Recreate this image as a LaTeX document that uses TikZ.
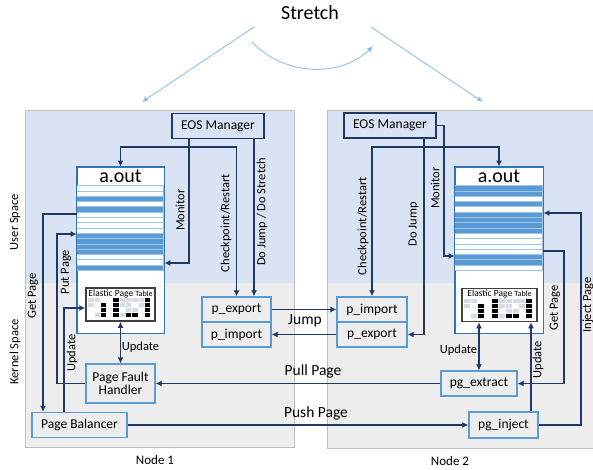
\documentclass[tikz,border=0pt]{standalone}
\usepackage{fontspec}
\setmainfont{Carlito}
\usetikzlibrary{arrows.meta,calc}
\definecolor{navy}{HTML}{203864}
\definecolor{userbg}{HTML}{DAE3F3}
\definecolor{kernbg}{HTML}{EDEDED}
\definecolor{panelline}{HTML}{BFBFBF}
\definecolor{boxblue}{HTML}{5B9BD5}
\definecolor{aoutblue}{HTML}{2E75B6}
\definecolor{stripeblue}{HTML}{5B9BD5}
\definecolor{stripeline}{HTML}{9DC3E6}
\definecolor{lightarrow}{HTML}{9DC3E6}
\definecolor{tipblue}{HTML}{5B9BD5}
\definecolor{cell0}{HTML}{FFFFFF}
\definecolor{cell1}{HTML}{D6DCE5}
\definecolor{cell2}{HTML}{000000}
\colorlet{stripe0}{white}
\colorlet{stripe1}{stripeblue}
\newcommand{\myfs}[1]{\fontsize{#1}{#1}\selectfont}
\newcommand{\eptcells}[1]{%
  \foreach \row [count=\r from 0] in {{1,1,0,0,2,1,1,1,1,2},{1,0,2,0,2,1,1,0,1,2},{0,0,2,0,2,0,1,1,0,2},{0,1,2,0,2,1,2,2,0,2}}{%
    \foreach \v [count=\c from 0] in \row {%
      \fill[cell\v] (3+\c*#1, 11+\r*5) rectangle ++(#1-0.9, 4.2);
    }%
  }%
}
\newcommand{\aoutstripes}[2]{%
  \foreach \v [count=\i from 0] in {#2} {%
    \filldraw[fill=stripe\v, draw=stripeline, line width=0.6pt] (0,19+\i*5.3) rectangle ++(#1,5.3);
  }%
}
\begin{document}
\begin{tikzpicture}[x=1pt,y=-1pt,
  conn/.style={draw=navy, line width=1.4pt, -{Latex[length=6pt,width=6pt]}},
  conn2/.style={draw=navy, line width=1.4pt, {Latex[length=6pt,width=6pt]}-{Latex[length=6pt,width=6pt]}},
  lightconn/.style={draw=lightarrow, line width=1pt, -{Latex[length=6pt,width=6pt,fill=tipblue]}},
  eosbox/.style={draw=navy, line width=1.3pt, fill=userbg, minimum width=92pt, minimum height=25pt, inner sep=0pt, font=\myfs{13.5}},
  kbox/.style={draw=boxblue, line width=1.3pt, fill=kernbg, inner sep=0pt, font=\myfs{13.5}, align=center},
  aoutbox/.style={draw=aoutblue, line width=0.9pt, fill=white, minimum width=87pt, minimum height=166pt, inner sep=0pt},
  eptbox/.style={draw=black!75, line width=1.5pt, fill=white, inner sep=0pt, minimum height=33pt},
  lbl/.style={font=\myfs{12.5}, inner sep=0pt},
  biglbl/.style={font=\myfs{15.5}, inner sep=0pt},
  title/.style={font=\myfs{20}, inner sep=0pt}
]
\useasboundingbox (0,0) rectangle (593,469);
% panels
\fill[userbg] (25,110) rectangle (294,283);
\fill[kernbg] (25,283) rectangle (294,447);
\draw[panelline, line width=1pt] (25,110) rectangle (294,447);
\fill[userbg] (327,110) rectangle (600,283);
\fill[kernbg] (327,283) rectangle (600,448);
\draw[panelline, line width=1pt] (327,110) rectangle (600,448);

% top
\node[title] (stretch) at (310,13) {Stretch};
\coordinate (sl0) at (254,27);
\coordinate (sl1) at (142,102);
\coordinate (sr0) at (371,27);
\coordinate (sr1) at (483,102);
\coordinate (sa0) at (252,42);
\coordinate (sa1) at (373,46);
\draw[lightconn] (sl0) -- (sl1);
\draw[lightconn] (sr0) -- (sr1);
\draw[lightconn] (sa0) .. controls (285,77) and (342,77) .. (sa1);

% side labels
\node[lbl, rotate=90] (us) at (15,222) {User Space};
\node[lbl, rotate=90] (ks) at (15,352) {Kernel Space};
\node[lbl, font=\myfs{13}] (n1) at (155,460) {Node 1};
\node[lbl, font=\myfs{13}] (n2) at (450,461) {Node 2};

% ---------- Node 1 ----------
\node[eosbox] (eos1) at (218,126) {EOS Manager};
\node[aoutbox] (aout1) at (120.5,250) {};
\begin{scope}[shift={(aout1.north west)}]
  \aoutstripes{87}{0,0,1,0,1,0,0,0,0,1,1,1,1,0,0,1}
\end{scope}
\draw[aoutblue, line width=0.9pt] (aout1.north west) rectangle (aout1.south east);
\node[title] (at1) at ($(aout1.north)+(0,10)$) {a.out};
\node[eptbox, minimum width=69pt] (ept1) at (120.5,304.5) {};
\begin{scope}[shift={(ept1.north west)}]
  \eptcells{6.3}
\end{scope}
\node[inner sep=0pt, font=\myfs{9.5}] (et1) at ($(ept1.north)+(0,6.5)$) {Elastic Page {\myfs{8}Table}};
\node[kbox, minimum width=69pt, minimum height=39pt] (pfh1) at (120.5,383.5) {Page Fault\\[-1pt]Handler};
\node[kbox, minimum width=95pt, minimum height=25pt] (pb1) at (79.5,425) {Page Balancer};
\node[kbox, minimum width=69pt, minimum height=25pt] (pexp1) at (236.5,309.5) {p\_export};
\node[kbox, minimum width=69pt, minimum height=25pt] (pimp1) at (236.5,334.5) {p\_import};

% ---------- Node 2 ----------
\node[eosbox] (eos2) at (390,125.5) {EOS Manager};
\node[aoutbox, minimum width=88pt] (aout2) at (499,250) {};
\begin{scope}[shift={(aout2.north west)}]
  \aoutstripes{88}{1,1,0,1,0,1,1,1,1,0,0,0,0,1,1,0}
\end{scope}
\draw[aoutblue, line width=0.9pt] (aout2.north west) rectangle (aout2.south east);
\node[title] (at2) at ($(aout2.north)+(0,10)$) {a.out};
\node[eptbox, minimum width=75pt] (ept2) at (499.5,305) {};
\begin{scope}[shift={(ept2.north west)}]
  \eptcells{6.9}
\end{scope}
\node[inner sep=0pt, font=\myfs{9.5}] (et2) at ($(ept2.north)+(0,6.5)$) {Elastic Page {\myfs{8}Table}};
\node[kbox, minimum width=70pt, minimum height=25pt] (pimp2) at (372,309.5) {p\_import};
\node[kbox, minimum width=70pt, minimum height=25pt] (pexp2) at (372,334.5) {p\_export};
\node[kbox, minimum width=76pt, minimum height=25pt] (pgx) at (479,383.5) {pg\_extract};
\node[kbox, minimum width=69pt, minimum height=26pt] (pgi) at (503.5,425) {pg\_inject};

% ---------- Node 1 connectors ----------
\coordinate (cr1) at (236.5,147);
\draw[conn2] (aout1.north) |- (cr1) -- (pexp1.north);
\coordinate (m1) at (189,263);
\draw[conn] (m1 |- eos1.south) -- (m1) -- (m1 -| aout1.east);
\coordinate (dj1) at (254,200);
\draw[conn] (dj1 |- eos1.south) -- (dj1 |- pexp1.north);
\coordinate (gp1) at (43,214);
\draw[conn] (gp1 -| aout1.west) -- (gp1) -- (gp1 |- pb1.north);
\coordinate (pp1) at (57,234);
\draw[conn] (pfh1.west) -| (pp1) -- (pp1 -| aout1.west);
\coordinate (up1) at (64,308);
\draw[conn] (up1 |- pb1.north) -- (up1) -- (up1 -| ept1.west);
\draw[conn2] (ept1.south) -- (pfh1.north);

% ---------- between nodes ----------
\draw[conn] (pgx.west) -- (pfh1.east);
\draw[conn] (pb1.east) -- (pgi.west);
\draw[conn] (pexp1.east) -- (pimp2.west);
\draw[conn] (pexp2.west) -- (pimp1.east);

% ---------- Node 2 connectors ----------
\coordinate (m2) at (444,256);
\draw[conn] (eos2.east) -| (m2) -- (m2 -| aout2.west);
\coordinate (dj2) at (424,334.5);
\draw[conn] (dj2 |- eos2.south) -- (dj2) -- (pexp2.east);
\coordinate (cr2) at (372,147);
\draw[conn2] (pimp2.north) -- (cr2) -| (aout2.north);
\coordinate (gp2) at (564,251);
\draw[conn] (gp2 -| aout2.east) -- (gp2) |- (pgx.east);
\coordinate (ip2) at (581,213);
\draw[conn] (pgi.east) -| (ip2) -- (ip2 -| aout2.east);
\draw[conn2] (ept2.south -| pgx.north) -- (pgx.north);
\coordinate (u2) at (531,380);
\draw[conn] (u2 |- pgi.north) -- (u2 |- ept2.south);

% ---------- labels ----------
\node[lbl, rotate=90] (lmon1) at (180,210) {Monitor};
\node[lbl, rotate=90] (lcr1) at (226,223) {Checkpoint/Restart};
\node[lbl, rotate=90] (ldj1) at (262,212) {Do Jump / Do Stretch};
\node[lbl, rotate=90] (lgp1) at (33,296) {Get Page};
\node[lbl, rotate=90] (lpp1) at (66,272) {Put Page};
\node[lbl, rotate=90] (lup1) at (72,353) {Update};
\node[lbl] (lup1b) at (140.5,347) {Update};
\node[biglbl] (ljump) at (305,321) {Jump};
\node[biglbl] (lpull) at (313,371) {Pull Page};
\node[biglbl] (lpush) at (316,413) {Push Page};
\node[lbl, rotate=90] (lmon2) at (435,188) {Monitor};
\node[lbl, rotate=90] (ldj2) at (413.5,224) {Do Jump};
\node[lbl, rotate=90] (lcr2) at (363,226) {Checkpoint/Restart};
\node[lbl] (lup2) at (458.5,350) {Update};
\node[lbl, rotate=90] (lup2b) at (538,359.5) {Update};
\node[lbl, rotate=90] (lgp2) at (555,308) {Get Page};
\node[lbl, rotate=90] (lip2) at (588,305) {Inject Page};
\end{tikzpicture}
\end{document}
